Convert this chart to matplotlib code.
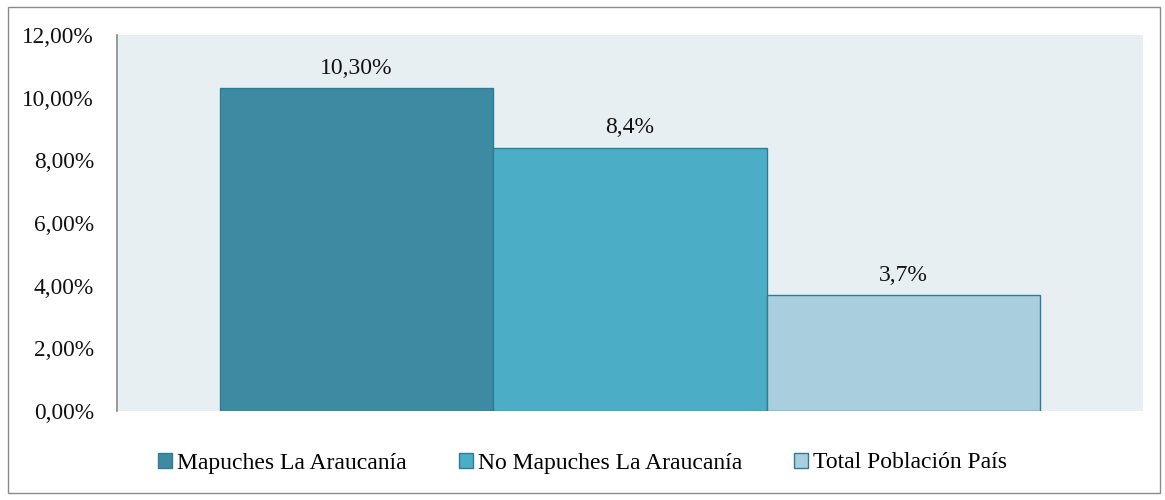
import matplotlib
matplotlib.use("Agg")
import matplotlib.pyplot as plt
from matplotlib.patches import Rectangle
from matplotlib.ticker import FuncFormatter

series = ["Mapuches La Araucanía", "No Mapuches La Araucanía", "Total Población País"]
values = [10.30, 8.4, 3.7]
value_labels = ["10,30%", "8,4%", "3,7%"]
yticks = [0, 2, 4, 6, 8, 10, 12]
colors = ["#3D8BA3", "#4BADC6", "#A9CEDE"]

plt.rcParams['font.family'] = ['Liberation Serif', 'DejaVu Serif']

W, H = 1165, 500
fig = plt.figure(figsize=(W/100, H/100), dpi=100)
fig.patches.append(Rectangle((8/W, 7/H), 1152/W, 486/H, transform=fig.transFigure,
                             fill=False, edgecolor="#8a8a8a", linewidth=1.0))
ax = fig.add_axes([117/W, (H-411)/H, (1143-117)/W, (411-35)/H])
ax.set_facecolor("#E8EFF3")

gap = 0.375
for i, (s, v, c) in enumerate(zip(series, values, colors)):
    ax.bar(i, v, width=1.0, color=c, edgecolor="#2F7B91", linewidth=1.0, label=s, zorder=3)
    ax.text(i, v + 0.3, value_labels[i], ha="center", va="bottom", fontsize=17, color="#111")

ax.set_xlim(-0.5 - gap, 2.5 + gap)
ax.set_ylim(0, 12)
ax.set_yticks(yticks)
ax.yaxis.set_major_formatter(FuncFormatter(lambda v, p: f"{v:.2f}".replace(".", ",") + "%"))
ax.tick_params(axis="y", labelsize=16.8, length=0, pad=16.5, colors="#111")
ax.set_xticks([])
for sp in ["top", "right", "bottom"]:
    ax.spines[sp].set_visible(False)
ax.spines["left"].set_color("#888888")
ax.spines["left"].set_linewidth(1.2)

leg = fig.legend(loc="center", bbox_to_anchor=(0.5, (H-463)/H), ncol=3, frameon=False,
                 fontsize=17, handlelength=0.6, handleheight=0.6, handletextpad=0.2,
                 columnspacing=2.2)
for h in leg.legend_handles:
    h.set_edgecolor("#2F7B91")

fig.savefig("out.png", dpi=100)
